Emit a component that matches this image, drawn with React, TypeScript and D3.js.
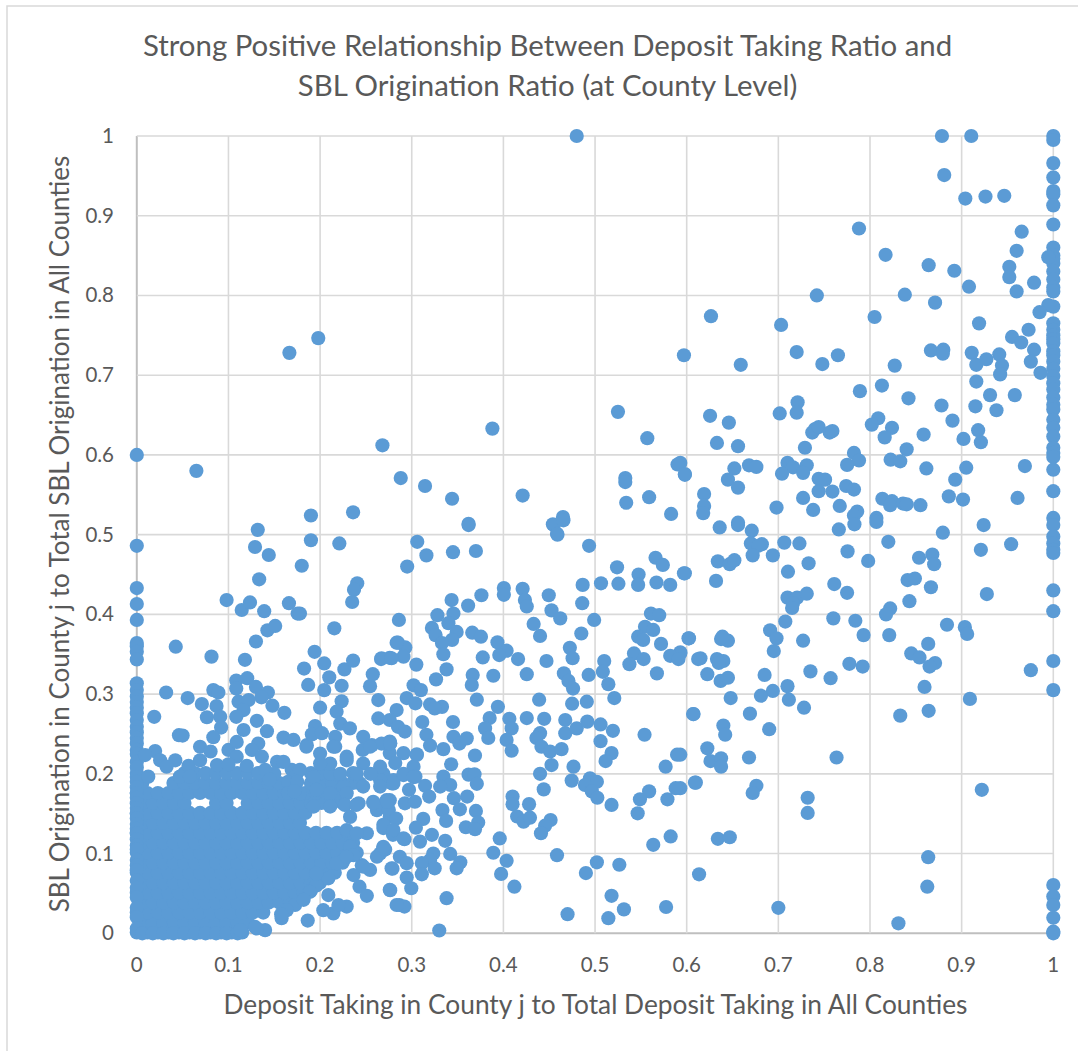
import React from "react";
import * as d3 from "d3";

const TITLE_LINES = [
  "Strong Positive Relationship Between Deposit Taking Ratio and",
  "SBL Origination Ratio (at County Level)",
];
const X_TITLE = "Deposit Taking in County j to Total Deposit Taking in All Counties";
const Y_TITLE = "SBL Origination in County j to Total SBL Origination in All Counties";
const TICKS = [0, 0.1, 0.2, 0.3, 0.4, 0.5, 0.6, 0.7, 0.8, 0.9, 1];

// Counties with a ratio of exactly 1 on the deposit axis
const rightEdgeY = [1, .995, .966, .948, .931, .927, .913, .889, .86, .85, .846, .84, .83, .82, .81, .805, .786, .765, .757, .75, .745, .74, .73, .725, .717, .708, .699, .69, .682, .672, .663, .657, .644, .634, .623, .609, .6025, .5975, .5815, .5545, .521, .512, .4975, .489, .481, .477, .43, .404, .3415, .305, .0605, .046, .0355, .0195, .002, 0];
// Counties with a ratio of exactly 0 on the deposit axis
const leftEdgeY = [.6, .486, .433, .413, .393, .364, .36, .353, .3435, .3135, .305, .297, .29, .283, .276, .2675, .259, .252, .245, .238, .23, .225, .215, .208, .196, .19, .183, .176, .17, .163, .157, .15, .144, .137, .131, .125, .118, .11, .105, .092, .085, .079, .066, .057, .045, .032, .02, .006];
// Counties with a ratio of exactly 0 on the SBL axis
const bottomEdgeX = [.006, .0175, .029, .04, .052, .0635, .075, .0865, .098, .11];

const upperPoints: [number, number][] = [
[.48,1],[.8785,1],[.9105,1],[.881,.951],[.904,.9215],[.926,.924],[.9465,.925],[.788,.884],[.817,.851],[.864,.838],[.892,.831],[.908,.811],[.9655,.88],[.96,.856],[.952,.836],[.952,.823],[.979,.816],[.96,.805],[.6265,.774],[.703,.763],[.805,.773],[.838,.801],[.742,.8],[.871,.791],[.919,.765],[.9945,.848],[.9945,.788],[.985,.779],[.973,.757],[.955,.748],[.965,.741],[.979,.732],[.9755,.717],[.986,.703],[.597,.725],[.659,.713],[.72,.729],[.748,.714],[.765,.725],[.827,.712],[.8665,.731],[.88,.732],[.8795,.727],[.911,.728],[.916,.713],[.927,.72],[.941,.726],[.944,.712],[.942,.701],[.916,.692],[.931,.675],[.958,.675],[.938,.656],[.915,.661],[.878,.662],[.89,.643],[.842,.671],[.813,.687],[.789,.68],[.918,.631],[.921,.616],[.902,.62],[.8585,.6255],[.84,.607],[.809,.646],[.802,.638],[.824,.634],[.816,.622],[.8225,.594],[.833,.592],[.8615,.583],[.905,.584],[.969,.586],[.893,.569],[.886,.548],[.9015,.544],[.961,.546],[.8135,.545],[.824,.542],[.822,.537],[.836,.539],[.84,.538],[.855,.537],[.807,.521],[.7825,.6025],[.788,.593],[.775,.5875],[.729,.609],[.721,.666],[.72,.653],[.7015,.652],[.6255,.649],[.646,.6405],[.633,.615],[.656,.611],[.737,.628],[.74,.6325],[.744,.635],[.756,.628],[.759,.63],[.71,.59],[.716,.5845],[.731,.587],[.727,.5775],[.704,.5765],[.744,.57],[.751,.569],[.744,.5545],[.759,.554],[.774,.561],[.7825,.5565],[.727,.546],[.738,.531],[.767,.536],[.698,.534],[.786,.529],[.7825,.524],[.593,.59],[.598,.575],[.652,.583],[.668,.587],[.676,.585],[.645,.569],[.656,.559],[.619,.551],[.619,.536],[.618,.527],[.656,.515],
[.065,.58],[.1665,.728],[.198,.7465],[.268,.612],[.388,.633],[.288,.571],[.3145,.561],[.344,.545],[.362,.5135],[.421,.549],[.236,.528],[.19,.524],[.132,.506],[.454,.513],[.459,.5],[.465,.522],[.525,.654],[.557,.621],[.533,.571],[.533,.566],[.534,.54],[.559,.547],[.583,.526],[.59,.588],[.598,.576],
[.129,.4845],[.144,.4745],[.1335,.444],[.18,.461],[.19,.493],[.221,.489],[.2405,.439],[.237,.431],[.235,.4155],[.166,.414],[.1755,.401],[.178,.401],[.098,.418],[.1145,.4055],[.1235,.415],[.139,.404],
];

const middlePoints: [number, number][] = [
[.636,.509],[.656,.512],[.671,.505],[.67,.489],[.682,.488],[.678,.486],[.672,.474],[.694,.474],[.7065,.49],[.723,.489],[.766,.5065],[.783,.513],[.807,.516],[.8795,.5025],[.924,.512],[.954,.488],[.921,.481],[.82,.491],[.7755,.479],[.798,.467],[.8535,.471],[.868,.475],[.87,.463],[.634,.4665],[.647,.463],[.652,.468],[.733,.464],[.7105,.4535],[.598,.4515],[.632,.442],[.761,.438],[.775,.427],[.841,.443],[.849,.445],[.8665,.434],[.843,.4165],[.9275,.4255],[.71,.421],[.7205,.421],[.731,.426],[.716,.414],[.715,.408],[.822,.4075],[.8175,.4],[.76,.395],[.784,.392],[.7076,.391],[.691,.38],[.698,.37],[.695,.354],[.727,.367],[.793,.374],[.821,.374],[.884,.387],[.9035,.384],[.906,.3755],[.8635,.363],[.602,.37],[.6375,.369],[.645,.367],[.639,.372],[.593,.351],[.615,.345],[.633,.344],[.64,.3415],[.635,.339],[.6225,.325],[.637,.3165],[.645,.3205],[.685,.324],[.71,.31],[.694,.304],[.681,.298],[.648,.295],[.7115,.293],[.728,.283],[.735,.3285],[.757,.32],[.7775,.338],[.792,.3345],[.845,.351],[.854,.346],[.871,.339],[.865,.3345],[.8595,.309],[.864,.279],[.833,.273],[.909,.294],[.9755,.33],[.6075,.275],[.669,.2755],[.64,.2605],[.642,.249],[.69,.256],[.6225,.232],[.626,.216],[.6375,.2195],[.6375,.209],[.668,.2205],[.7635,.2205],[.593,.224],[.61,.189],[.593,.182],[.676,.185],[.672,.176],[.732,.17],[.732,.151],[.922,.18],[.634,.1185],[.647,.1205],[.8635,.0955],[.8625,.0585],[.6135,.074],[.7,.032],[.831,.0125],
[.362,.512],[.455,.512],[.4585,.501],[.4655,.518],[.306,.491],[.316,.474],[.295,.46],[.345,.478],[.37,.4795],[.4935,.486],[.566,.471],[.574,.462],[.524,.459],[.5475,.45],[.547,.437],[.597,.4515],[.567,.44],[.582,.437],[.5255,.4385],[.5065,.439],[.4865,.437],[.486,.414],[.4005,.433],[.4005,.4245],[.421,.432],[.4235,.418],[.4255,.41],[.4495,.424],[.4525,.405],[.462,.395],[.376,.424],[.3615,.411],[.3435,.418],[.499,.393],[.485,.376],[.328,.399],[.286,.393],[.3455,.401],[.34,.389],[.322,.383],[.326,.374],[.349,.378],[.344,.368],[.333,.364],[.3345,.35],[.366,.377],[.3755,.372],[.3935,.365],[.4035,.3545],[.3955,.349],[.416,.344],[.3775,.346],[.338,.331],[.3265,.3185],[.305,.337],[.3665,.324],[.3655,.3115],[.389,.323],[.4255,.325],[.447,.3415],[.433,.388],[.44,.373],[.4725,.358],[.4755,.345],[.51,.3415],[.5085,.328],[.493,.324],[.466,.326],[.471,.3165],[.476,.307],[.5145,.3125],[.521,.295],[.439,.293],[.371,.293],[.285,.3645],[.293,.3585],[.291,.347],[.276,.3455],[.267,.345],[.302,.311],[.31,.305],[.2945,.295],[.304,.2885],[.32,.287],[.333,.284],[.325,.282],[.475,.288],[.491,.2905],[.394,.284],
[.561,.401],[.57,.399],[.5545,.3845],[.5635,.3805],[.547,.372],[.5525,.368],[.572,.363],[.6025,.37],[.593,.3525],[.582,.348],[.591,.344],[.6125,.344],[.5425,.351],[.553,.344],[.5375,.3375],[.5675,.326],
];

const lowerPoints: [number, number][] = [
[.385,.27],[.38,.257],[.3835,.245],[.4065,.269],[.409,.257],[.4035,.2425],[.409,.229],[.4255,.27],[.4445,.269],[.44,.251],[.436,.245],[.4415,.234],[.451,.228],[.4525,.211],[.44,.2],[.4635,.231],[.4675,.2675],[.4675,.251],[.48,.257],[.4915,.2655],[.506,.262],[.5195,.254],[.506,.241],[.518,.226],[.5115,.216],[.554,.249],[.607,.275],[.5895,.224],[.577,.209],[.609,.189],[.588,.182],[.559,.178],[.549,.168],[.579,.168],[.5465,.1505],[.4765,.209],[.4745,.1915],[.4945,.1945],[.502,.19],[.489,.186],[.4965,.178],[.5025,.17],[.518,.161],[.3115,.265],[.345,.265],[.316,.249],[.32,.2355],[.3345,.231],[.3455,.2465],[.352,.238],[.36,.2445],[.369,.223],[.343,.212],[.362,.199],[.3685,.1995],[.371,.1875],[.3345,.1965],[.342,.186],[.331,.184],[.3145,.185],[.319,.1715],[.297,.18],[.2925,.163],[.3035,.165],[.3055,.2245],[.3605,.1715],[.346,.1695],[.3525,.1555],[.3335,.1545],[.3375,.141],[.3125,.1435],[.3045,.1325],[.37,.1535],[.3725,.139],[.359,.133],[.369,.1305],[.41,.1715],[.41,.162],[.428,.162],[.415,.1465],[.422,.14],[.429,.145],[.4515,.142],[.4455,.135],[.441,.1255],[.396,.119],[.389,.101],[.4035,.091],[.3975,.0745],[.412,.0585],[.4585,.098],[.502,.089],[.5265,.086],[.49,.0755],[.5635,.111],[.5825,.1215],[.444,.1805],[.322,.1235],[.309,.115],[.3365,.116],[.342,.0995],[.292,.118],[.287,.096],[.2945,.088],[.279,.081],[.2945,.07],[.2995,.0565],[.276,.0545],[.3235,.1],[.32,.092],[.311,.088],[.311,.074],[.325,.0815],[.353,.089],[.349,.0815],[.338,.044],[.2865,.0355],[.292,.0335],[.33,.0035],[.47,.024],[.518,.047],[.5315,.03],[.5145,.019],[.5775,.033],
[.2835,.28],[.276,.2675],[.285,.259],[.2925,.253],[.276,.2405],[.291,.226],[.276,.226],[.282,.2135],[.302,.209],[.291,.1985],[.304,.1965],[.2785,.188],[.269,.2],[.276,.167],[.269,.159],[.276,.146],[.269,.132],[.2795,.1235],[.271,.105],[.2655,.1],
[.0425,.3595],[.0815,.347],[.118,.343],[.13,.366],[.1425,.38],[.151,.3855],[.2155,.3825],[.032,.302],[.0555,.295],[.071,.2875],[.019,.2715],[.0765,.271],[.0835,.305],[.089,.302],[.087,.285],[.091,.2715],[.092,.258],[.0835,.246],[.046,.2485],[.05,.248],[.1085,.317],[.1205,.32],[.1085,.307],[.13,.309],[.143,.302],[.136,.296],[.111,.2905],[.122,.2925],[.1165,.28],[.1085,.2715],[.148,.2855],[.161,.2765],[.194,.353],[.2045,.3385],[.1825,.332],[.2265,.331],[.236,.342],[.187,.3115],[.21,.321],[.2575,.325],[.2545,.31],[.2235,.3105],[.2045,.305],[.2665,.344],[.278,.345],[.2635,.2925],[.2235,.291],[.2,.283],[.218,.278],[.2635,.2695],[.2835,.3645],[.131,.2665],[.1165,.255],[.142,.2535],[.1945,.26],[.191,.2495],[.202,.251],[.222,.263],[.2325,.257],[.2165,.2465],[.16,.2455],[.171,.2425],[.2165,.234],[.247,.2465],[.2565,.236],[.2465,.23],[.267,.238],[.2765,.238],[.1,.23],[.109,.24],[.069,.234],[.0805,.228],[.109,.2215],[.1325,.238],[.1255,.23],[.1365,.2215],[.1855,.236],[.2,.2255],[.02,.2285],[.009,.2235],[.0255,.217],[.042,.217],[.0325,.209],[.0565,.21],[.069,.217],[.0875,.211],[.047,.1965],[.0125,.1965],[.058,.1965],[.169,.205],[.153,.215],[.229,.2215],[.2655,.209],[.28,.192],[.2655,.192],[.242,.163],[.258,.165],[.2725,.167],[.262,.1545],[.275,.1545],[.269,.136],[.251,.1255],[.236,.1045],[.262,.096],[.269,.1065],[.278,.0815],[.2545,.0795],[.2455,.0855],[.2365,.073],[.243,.0585],[.251,.047],[.2765,.054],[.2835,.0355],[.229,.0335],[.2145,.025],[.2035,.029],[.22,.0355],[.209,.048],[.19,.0535],[.209,.069],[.1865,.016],[.158,.019],[.14,.004],[.131,.006],
];

// Clumps in the busy band above and to the right of the solid mass
const bandPoints: [number, number][] = [
[.1745,.2],[.193,.196],[.211,.2],[.229,.217],[.247,.213],[.2255,.184],[.2436,.188],[.2655,.184],[.28,.188],[.291,.2],[.302,.196],[.3055,.2235],[.2764,.238],[.211,.213],[.185,.234],[.2145,.234],[.2545,.234],[.178,.1755],[.196,.18],[.211,.1755],[.229,.1755],[.247,.184],[.193,.159],[.211,.159],[.227,.161],[.2393,.161],[.2327,.146],[.229,.1295],[.24,.1255],[.258,.1635],[.273,.165],[.283,.144],[.28,.1295],[.291,.119],[.269,.1085],[.2327,.1085],[.2364,.098],[.2255,.092],[.2473,.0835],[.196,.06],[.196,.075],[.218,.088],[.229,.096],[.189,.052],[.1727,.0355],[.182,.042],[.1636,.029],[.1575,.024],[.113,.004],[.129,.008],[.2,.213],[.222,.2],[.24,.2],[.255,.2],[.165,.19],[.15,.2],
[.178,.205],[.14,.205],[.16,.215],[.175,.19],[.165,.176],[.172,.178],[.145,.193],[.12,.21],[.1,.212],
];

// The solid mass near the origin cannot be read dot by dot; these are estimated
// county values, listed by row (SBL ratio, then deposit ratios), that reproduce its extent.
const denseRows: [number, number[]][] = [
[.001,[0,.0115,.023,.0345,.046,.0575,.069,.0805,.092,.1035,.115]],
[.0135,[.006,.0175,.029,.0405,.052,.0635,.075,.0865,.098,.1095,.121]],
[.026,[0,.0115,.023,.0345,.046,.0575,.069,.0805,.092,.1035,.115,.1265,.138]],
[.0385,[.006,.0175,.029,.0405,.052,.0635,.075,.0865,.098,.1095,.121,.1325,.144,.1555,.167]],
[.051,[0,.0115,.023,.0345,.046,.0575,.069,.0805,.092,.1035,.115,.1265,.138,.1495,.161,.1725,.182]],
[.0635,[.006,.0175,.029,.0405,.052,.0635,.075,.0865,.098,.1095,.121,.1325,.144,.1555,.167,.1785,.19,.2]],
[.076,[0,.0115,.023,.0345,.046,.0575,.069,.0805,.092,.1035,.115,.1265,.138,.1495,.161,.1725,.184,.1955,.207,.216]],
[.0885,[.006,.0175,.029,.0405,.052,.0635,.075,.0865,.098,.1095,.121,.1325,.144,.1555,.167,.1785,.19,.2015,.213,.2245]],
[.101,[0,.0115,.023,.0345,.046,.0575,.069,.0805,.092,.1035,.115,.1265,.138,.1495,.161,.1725,.184,.1955,.207,.2185,.23,.24]],
[.1135,[.006,.0175,.029,.0405,.052,.0635,.075,.0865,.098,.1095,.121,.1325,.144,.1555,.167,.1785,.19,.2015,.213,.2245,.236]],
[.126,[0,.0115,.023,.0345,.046,.0575,.069,.0805,.092,.1035,.115,.1265,.138,.1495,.161,.1725,.184,.1955,.207,.2185,.23]],
[.1385,[.006,.0175,.029,.0405,.052,.0635,.075,.0865,.098,.1095,.121,.1325,.144,.1555,.167,.178]],
[.151,[0,.0115,.023,.0345,.046,.0575,.069,.0805,.092,.1035,.115,.1265,.138,.1495,.161,.1725,.184]],
[.1635,[.006,.0175,.029,.0405,.052,.0865,.098,.121,.1325,.144,.1555,.167,.1785,.19,.2015,.213,.2245]],
[.176,[0,.0115,.023,.0345,.046,.0575,.069,.0805,.092,.1035,.115,.1265,.138,.1495,.161,.1835,.1955,.207,.2185]],
[.1885,[.006,.04,.052,.0635,.075,.0865,.098,.1095,.121,.1325,.144,.1555,.19,.2015,.213,.2245,.236]],
[.201,[0,.052,.0635,.075,.0865,.098,.1095,.121,.1325,.19,.2015,.236]],
];

const allPoints: [number, number][] = [
  ...denseRows.flatMap(([y, xs]) => xs.map((x) => [x, y] as [number, number])),
  ...leftEdgeY.map((y) => [0, y] as [number, number]),
  ...bottomEdgeX.map((x) => [x, 0] as [number, number]),
  ...rightEdgeY.map((y) => [1, y] as [number, number]),
  ...upperPoints,
  ...middlePoints,
  ...lowerPoints,
  ...bandPoints,
];

const FONT = "Lato, 'Open Sans', sans-serif";
const TEXT = "#595959";
const GRID = "#D9D9D9";
const AXIS = "#BFBFBF";
const DOT = "#5B9BD5";

export default function App() {
  const x = d3.scaleLinear().domain([0, 1]).range([136.8, 1053.3]);
  const y = d3.scaleLinear().domain([0, 1]).range([933.3, 136]);
  return (
    <svg
      width={1078}
      height={1051}
      style={{ position: "absolute", left: 0, top: 0, display: "block", background: "#fff" }}
    >
      <path d="M7 1051V6H1078" fill="none" stroke={GRID} strokeWidth={1.5} />
      {TICKS.map((t) => (
        <g key={t}>
          <line x1={x(t)} x2={x(t)} y1={y(0)} y2={y(1)} stroke={t === 0 ? AXIS : GRID} strokeWidth={t === 0 ? 2 : 1.6} />
          <line x1={x(0)} x2={x(1)} y1={y(t)} y2={y(t)} stroke={t === 0 ? AXIS : GRID} strokeWidth={t === 0 ? 2 : 1.6} />
        </g>
      ))}
      {allPoints.map(([a, b], i) => (
        <circle key={i} cx={x(a)} cy={y(b)} r={7.1} fill={DOT} />
      ))}
      <g fontFamily={FONT} fill={TEXT}>
        {TICKS.map((t) => (
          <text key={t} x={x(t)} y={971.5} fontSize={20.5} textAnchor="middle">{String(t)}</text>
        ))}
        {TICKS.map((t) => (
          <text key={t} x={114} y={y(t) + 7} fontSize={20.5} textAnchor="end">{String(t)}</text>
        ))}
        <text x={547.5} y={56} fontSize={29.4} textAnchor="middle">{TITLE_LINES[0]}</text>
        <text x={547.5} y={96} fontSize={29.4} textAnchor="middle">{TITLE_LINES[1]}</text>
        <text x={595.5} y={1014} fontSize={26.3} textAnchor="middle">{X_TITLE}</text>
        <text transform="translate(69,534) rotate(-90)" fontSize={26} textAnchor="middle">{Y_TITLE}</text>
      </g>
    </svg>
  );
}
